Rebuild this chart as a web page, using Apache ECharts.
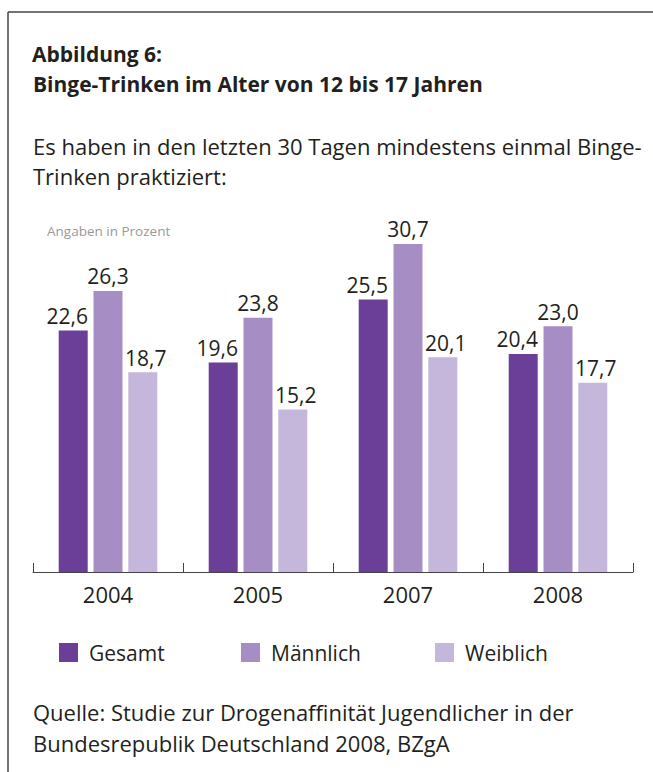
<!DOCTYPE html>
<html>
<head>
<meta charset="utf-8">
<script src="https://cdn.jsdelivr.net/npm/echarts@6/dist/echarts.min.js"></script>
<style>
html,body{margin:0;padding:0;background:#fff;}
#c{width:653px;height:772px;}
</style>
</head>
<body>
<div id="c"></div>
<script>
var years = ['2004', '2005', '2007', '2008'];
var gesamt = [22.6, 19.6, 25.5, 20.4];
var maennlich = [26.3, 23.8, 30.7, 23.0];
var weiblich = [18.7, 15.2, 20.1, 17.7];
var seriesNames = ['Gesamt', 'Männlich', 'Weiblich'];

var colors = ['#6b3f98', '#a68dc4', '#c5b6db'];
var FONT = 'Open Sans';
var TXT = '#231f20';

function fmt(p) { return p.value.toFixed(1).replace('.', ','); }

function txt(x, y, s, size, weight, fill) {
  return {
    type: 'text', x: x, y: y, silent: true,
    style: { text: s, fontSize: size, fontFamily: FONT, fontWeight: weight || 'normal',
             fill: fill || TXT, align: 'left', verticalAlign: 'middle' }
  };
}

function barSeries(name, data, color, dx) {
  return {
    name: name, type: 'bar', data: data, barWidth: 29, barGap: '20%',
    itemStyle: { color: color },
    label: { show: true, position: 'top', distance: 4, offset: [dx, 0], formatter: fmt,
             fontFamily: FONT, fontSize: 21, color: TXT },
    emphasis: { disabled: true }
  };
}

function legendAt(left, name) {
  return {
    left: left, top: 642, padding: 0, data: [name], icon: 'rect', itemWidth: 19, itemHeight: 19,
    selectedMode: false,
    textStyle: { fontFamily: FONT, fontSize: 21, color: TXT, lineHeight: 19, padding: [0, 0, 0, 6] }
  };
}

var chart = echarts.init(document.getElementById('c'), null, { renderer: 'svg' });
chart.setOption({
  animation: false,
  backgroundColor: '#fff',
  grid: { left: 33, right: 20, top: 230, bottom: 200, containLabel: false },
  xAxis: {
    type: 'category', data: years, boundaryGap: true,
    axisLine: { lineStyle: { color: '#444', width: 1 } },
    axisTick: { show: true, inside: true, length: 9, lineStyle: { color: '#444' } },
    axisLabel: { fontFamily: FONT, fontSize: 22, color: TXT, margin: 11 }
  },
  yAxis: { type: 'value', min: 0, max: 32, show: false, splitLine: { show: false } },
  legend: [legendAt(59, seriesNames[0]), legendAt(241, seriesNames[1]), legendAt(435, seriesNames[2])],
  series: [
    barSeries(seriesNames[0], gesamt, colors[0], -6),
    barSeries(seriesNames[1], maennlich, colors[1], 0),
    barSeries(seriesNames[2], weiblich, colors[2], 3)
  ],
  graphic: [
    { type: 'line', silent: true, shape: { x1: 8, y1: 12, x2: 653, y2: 12 }, style: { stroke: '#444', lineWidth: 1.5 } },
    { type: 'line', silent: true, shape: { x1: 8, y1: 12, x2: 8, y2: 772 }, style: { stroke: '#444', lineWidth: 1.5 } },
    txt(32, 53.5, 'Abbildung 6:', 21, 'bold'),
    txt(33, 83.5, 'Binge-Trinken im Alter von 12 bis 17 Jahren', 21, 'bold'),
    txt(33, 145.5, 'Es haben in den letzten 30 Tagen mindestens einmal Binge-', 22),
    txt(33, 175.5, 'Trinken praktiziert:', 22),
    txt(47, 230.5, 'Angaben in Prozent', 13.5, 'normal', '#999999'),
    txt(33, 712, 'Quelle: Studie zur Drogenaffinität Jugendlicher in der', 22),
    txt(33, 742.5, 'Bundesrepublik Deutschland 2008, BZgA', 22)
  ]
});
</script>
</body>
</html>
